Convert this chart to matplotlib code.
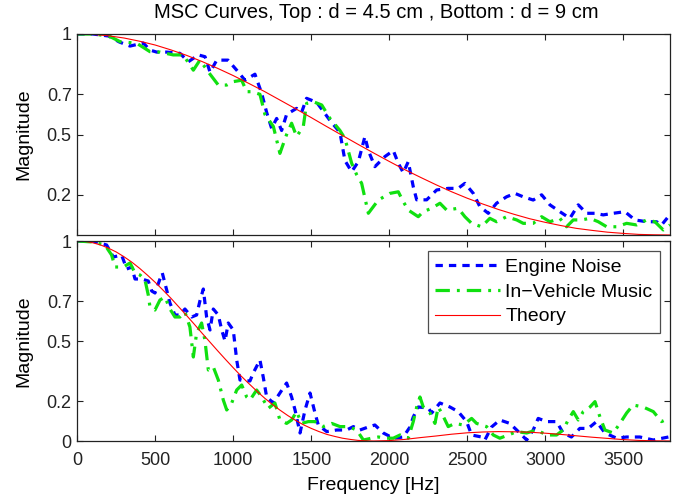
import matplotlib
matplotlib.use("Agg")
import matplotlib.pyplot as plt
import numpy as np

plt.rcParams["font.family"] = ["Liberation Sans", "DejaVu Sans"]

# (frequency Hz, magnitude)
eng_top = [
    (0, 1.0), (100, 1.0), (200, 0.99), (270, 0.96), (338, 0.94), (423, 0.955),
    (466, 0.92), (509, 0.91), (573, 0.91), (658, 0.904), (712, 0.862), (776, 0.896),
    (819, 0.887), (851, 0.81), (894, 0.87), (966, 0.87), (1022, 0.82), (1075, 0.77),
    (1139, 0.80), (1182, 0.705), (1214, 0.61), (1246, 0.53), (1278, 0.58), (1310, 0.52),
    (1342, 0.60), (1406, 0.63), (1438, 0.61), (1470, 0.68), (1535, 0.66), (1620, 0.57),
    (1684, 0.51), (1716, 0.37), (1759, 0.315), (1802, 0.365), (1844, 0.49), (1866, 0.42),
    (1908, 0.34), (1972, 0.39), (2026, 0.42), (2058, 0.357), (2090, 0.31), (2122, 0.365),
    (2154, 0.24), (2176, 0.175), (2240, 0.175), (2304, 0.224), (2378, 0.232), (2442, 0.232),
    (2485, 0.257), (2539, 0.207), (2581, 0.141), (2635, 0.108), (2688, 0.158), (2752, 0.19),
    (2806, 0.207), (2859, 0.19), (2923, 0.174), (2977, 0.2), (3030, 0.15), (3094, 0.116),
    (3158, 0.083), (3212, 0.15), (3265, 0.108), (3318, 0.108), (3372, 0.1), (3436, 0.108),
    (3511, 0.116), (3575, 0.075), (3650, 0.066), (3714, 0.066), (3746, 0.05), (3788, 0.09),
]
music_top = [
    (0, 1.0), (100, 1.0), (150, 0.995), (210, 0.987), (274, 0.962), (381, 0.954),
    (466, 0.912), (530, 0.91), (615, 0.896), (679, 0.896), (744, 0.82), (786, 0.87),
    (851, 0.80), (904, 0.746), (958, 0.746), (1000, 0.763), (1054, 0.77), (1086, 0.713),
    (1118, 0.713), (1171, 0.70), (1203, 0.60), (1257, 0.54), (1299, 0.406), (1342, 0.50),
    (1374, 0.556), (1406, 0.49), (1449, 0.54), (1470, 0.655), (1513, 0.663), (1567, 0.647),
    (1620, 0.58), (1684, 0.52), (1716, 0.48), (1759, 0.357), (1791, 0.30), (1823, 0.257),
    (1866, 0.108), (1930, 0.174), (2004, 0.207), (2058, 0.215), (2090, 0.166), (2122, 0.124),
    (2186, 0.091), (2218, 0.116), (2272, 0.133), (2325, 0.158), (2368, 0.124), (2442, 0.133),
    (2485, 0.091), (2528, 0.058), (2592, 0.041), (2645, 0.083), (2688, 0.066), (2752, 0.091),
    (2817, 0.075), (2859, 0.058), (2923, 0.058), (2977, 0.091), (3030, 0.066), (3094, 0.083),
    (3137, 0.041), (3180, 0.075), (3233, 0.075), (3287, 0.083), (3340, 0.066), (3394, 0.041),
    (3458, 0.041), (3522, 0.058), (3586, 0.05), (3650, 0.075), (3703, 0.066), (3757, 0.025),
    (3800, 0.05),
]
eng_bot = [
    (0, 1.0), (100, 1.0), (188, 0.98), (231, 0.92), (284, 0.93), (317, 0.86),
    (349, 0.87), (370, 0.81), (413, 0.81), (455, 0.80), (477, 0.75), (498, 0.74),
    (530, 0.81), (545, 0.84), (573, 0.755), (594, 0.69), (626, 0.63), (658, 0.63),
    (690, 0.66), (733, 0.62), (765, 0.63), (786, 0.70), (808, 0.76), (829, 0.62),
    (851, 0.555), (872, 0.66), (904, 0.63), (926, 0.555), (947, 0.50), (968, 0.59),
    (1000, 0.555), (1022, 0.405), (1043, 0.305), (1107, 0.30), (1128, 0.34), (1171, 0.405),
    (1192, 0.32), (1214, 0.22), (1257, 0.19), (1299, 0.24), (1342, 0.29), (1374, 0.22),
    (1396, 0.155), (1428, 0.04), (1460, 0.155), (1492, 0.24), (1524, 0.14), (1545, 0.08),
    (1599, 0.047), (1663, 0.055), (1727, 0.055), (1770, 0.072), (1812, 0.055), (1866, 0.07),
    (1908, 0.08), (1962, 0.04), (2026, 0.014), (2090, 0.02), (2133, 0.07), (2154, 0.12),
    (2186, 0.17), (2250, 0.165), (2272, 0.14), (2325, 0.19), (2389, 0.17), (2442, 0.147),
    (2496, 0.097), (2528, 0.03), (2592, 0.02), (2613, 0.005), (2656, 0.07), (2709, 0.105),
    (2773, 0.088), (2817, 0.055), (2881, 0.005), (2923, 0.055), (2955, 0.113), (3009, 0.097),
    (3073, 0.097), (3115, 0.04), (3168, 0.02), (3222, 0.063), (3276, 0.063), (3329, 0.097),
    (3383, 0.04), (3458, 0.014), (3522, 0.02), (3607, 0.02), (3693, 0.005), (3790, 0.02),
]
music_bot = [
    (0, 1.0), (100, 0.995), (177, 0.98), (220, 0.93), (242, 0.87), (295, 0.87),
    (338, 0.89), (370, 0.84), (402, 0.83), (434, 0.805), (455, 0.73), (466, 0.67),
    (498, 0.655), (530, 0.705), (562, 0.72), (594, 0.66), (626, 0.62), (658, 0.62),
    (690, 0.645), (722, 0.57), (744, 0.42), (765, 0.54), (797, 0.59), (818, 0.505),
    (840, 0.355), (872, 0.37), (904, 0.305), (936, 0.205), (958, 0.155), (990, 0.19),
    (1022, 0.255), (1054, 0.28), (1086, 0.22), (1107, 0.205), (1150, 0.255), (1182, 0.22),
    (1224, 0.163), (1267, 0.19), (1299, 0.105), (1342, 0.088), (1374, 0.105), (1406, 0.147),
    (1438, 0.088), (1481, 0.097), (1524, 0.097), (1577, 0.072), (1631, 0.088), (1684, 0.072),
    (1738, 0.072), (1791, 0.055), (1834, 0.005), (1887, 0.014), (1930, 0.02), (1980, 0.014),
    (2026, 0.014), (2069, 0.03), (2122, 0.014), (2154, 0.097), (2176, 0.17), (2197, 0.22),
    (2218, 0.17), (2261, 0.14), (2293, 0.088), (2314, 0.17), (2336, 0.14), (2378, 0.072),
    (2421, 0.088), (2474, 0.08), (2528, 0.113), (2560, 0.088), (2624, 0.072), (2667, 0.03),
    (2709, 0.014), (2763, 0.03), (2817, 0.047), (2881, 0.04), (2945, 0.055), (3009, 0.03),
    (3073, 0.03), (3115, 0.055), (3147, 0.105), (3180, 0.147), (3212, 0.105), (3244, 0.147),
    (3287, 0.17), (3319, 0.197), (3351, 0.12), (3383, 0.055), (3436, 0.04), (3479, 0.088),
    (3522, 0.14), (3564, 0.18), (3628, 0.17), (3693, 0.147), (3746, 0.097), (3790, 0.113),
]

# theory curves, read every 100 Hz (top) / 50 Hz then 100 Hz (bottom)
theory_top_f = list(range(0, 3900, 100))
theory_top = [
    1.0, 0.998, 0.991, 0.980, 0.964, 0.945, 0.921, 0.894, 0.863, 0.829,
    0.793, 0.754, 0.714, 0.671, 0.628, 0.584, 0.539, 0.495, 0.451, 0.408,
    0.366, 0.325, 0.287, 0.250, 0.215, 0.183, 0.154, 0.127, 0.103, 0.081,
    0.063, 0.047, 0.033, 0.023, 0.014, 0.008, 0.003, 0.001, 0.000,
]
theory_bot_f = list(range(0, 1950, 50)) + list(range(2000, 3900, 100))
theory_bot = [
    1.0, 0.998, 0.991, 0.980, 0.964, 0.945, 0.921, 0.894, 0.863, 0.829,
    0.793, 0.754, 0.714, 0.671, 0.628, 0.584, 0.539, 0.495, 0.451, 0.408,
    0.366, 0.325, 0.287, 0.250, 0.215, 0.183, 0.154, 0.127, 0.103, 0.081,
    0.063, 0.047, 0.033, 0.023, 0.014, 0.008, 0.003, 0.001, 0.000,
    0.002, 0.008, 0.017, 0.025, 0.034, 0.041, 0.045, 0.047, 0.046, 0.044,
    0.039, 0.033, 0.026, 0.019, 0.013, 0.007, 0.003, 0.001, 0.000,
]

labels = ["Engine Noise", "In\u2212Vehicle Music", "Theory"]
title = "MSC Curves, Top : d = 4.5 cm , Bottom : d = 9 cm"
x_ticks = [0, 500, 1000, 1500, 2000, 2500, 3000, 3500]
y_ticks_top = [0.2, 0.5, 0.7, 1]
y_ticks_bot = [0, 0.2, 0.5, 0.7, 1]

W, H = 681, 497
fig = plt.figure(figsize=(W / 100, H / 100), dpi=100)


def _box(l, t, r, b):
    return [l / W, 1 - b / H, (r - l) / W, (b - t) / H]


ax_top = fig.add_axes(_box(77.3, 34, 670, 235))
ax_bot = fig.add_axes(_box(77.3, 241, 670, 441))

blue_style = dict(color="#0000ff", lw=2.3, dashes=(2.3, 1.9), dash_capstyle="butt")
green_style = dict(color="#10e010", lw=2.3, dashes=(4.5, 2.2, 0.9, 2.2), dash_capstyle="butt")
red_style = dict(color="#ff0000", lw=0.8)


def _draw(ax, eng, music, tf, tv, yticks):
    ef, ev = np.array(eng).T
    mf, mv = np.array(music).T
    ax.plot(ef, ev, label=labels[0], **blue_style)
    ax.plot(mf, mv, label=labels[1], **green_style)
    ax.plot(tf, tv, label=labels[2], **red_style)
    ax.set_xlim(0, 3800)
    ax.set_ylim(0, 1)
    ax.set_xticks(x_ticks)
    ax.set_yticks(yticks)
    ax.set_yticklabels([f"{t:g}" for t in yticks])
    ax.tick_params(direction="in", length=4.5, width=0.8, top=True, right=True,
                   labelsize=13, colors="#222222")
    ax.tick_params(axis="x", pad=8)
    ax.tick_params(axis="y", pad=4)
    for sp in ax.spines.values():
        sp.set_linewidth(0.9)
        sp.set_color("#222222")
    ax.set_ylabel("Magnitude", fontsize=14, labelpad=10.5)


_draw(ax_top, eng_top, music_top, theory_top_f, theory_top, y_ticks_top)
_draw(ax_bot, eng_bot, music_bot, theory_bot_f, theory_bot, y_ticks_bot)
ax_top.tick_params(labelbottom=False)
ax_bot.set_xticklabels([str(t) for t in x_ticks])
ax_bot.set_xlabel("Frequency [Hz]", fontsize=14, labelpad=6)

leg = ax_bot.legend(loc="upper right", fontsize=14, frameon=True, fancybox=False,
                    edgecolor="#222222", handlelength=3.3, labelspacing=0.36,
                    borderaxespad=0.5, handletextpad=0.3, borderpad=0.4)
leg.get_frame().set_linewidth(0.9)

fig.text(376 / W, 1 - 17.5 / H, title, ha="center", va="baseline", fontsize=14.5)

fig.savefig("out.png", dpi=100)
